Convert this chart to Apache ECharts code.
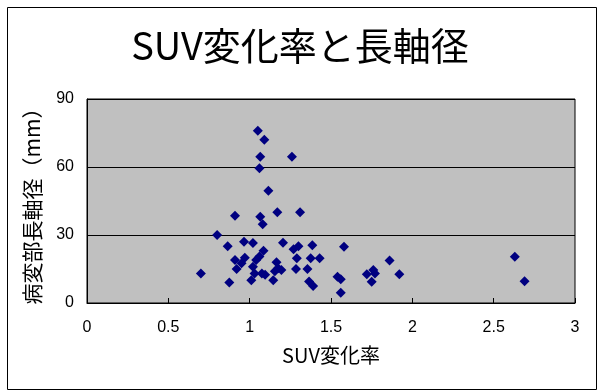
<!DOCTYPE html>
<html>
<head>
<meta charset="utf-8">
<script src="https://cdn.jsdelivr.net/npm/echarts@6/dist/echarts.min.js"></script>
<style>
html,body{margin:0;padding:0;background:#fff;}
#c{width:600px;height:392px;}
</style>
</head>
<body>
<div id="c"></div>
<script>
const titleText = 'SUV変化率と長軸径';
const xAxisName = 'SUV変化率';
const yAxisName = '病変部長軸径（mm）';
const xTicks = [0, 0.5, 1, 1.5, 2, 2.5, 3];
const yTicks = [0, 30, 60, 90];
const suvChange = [0.70,0.80,0.865,0.875,0.91,0.91,0.92,0.95,0.965,0.97,1.01,1.02,1.02,1.03,1.04,1.05,1.06,1.06,1.065,1.065,1.075,1.08,1.085,1.09,1.095,1.115,1.145,1.155,1.165,1.17,1.175,1.195,1.205,1.26,1.27,1.285,1.29,1.30,1.31,1.355,1.365,1.375,1.385,1.39,1.43,1.54,1.56,1.56,1.58,1.72,1.75,1.76,1.77,1.86,1.92,2.63,2.69];
const longAxis = [13,30,25,9,38.5,19,15,17.5,27,20,10,26.5,16,13,19,76,20.5,59.5,64.5,38,13,34.7,23,72,12.5,49.5,10,14,18,40,15.3,14.6,26.6,64.5,23.7,15,19.7,25,40,15,9.5,19.7,25.5,7.5,19.7,11.6,10.5,4.5,24.8,12.7,9.4,14.6,13,18.7,12.7,20.4,9.6];

const points = suvChange.map((x, i) => [x, longAxis[i]]);
const chart = echarts.init(document.getElementById('c'), null, {renderer: 'canvas'});
const numFont = 'Liberation Sans';
const jpFont = 'Noto Sans CJK JP';
chart.setOption({
  animation: false,
  backgroundColor: '#fff',
  title: {
    text: titleText, left: 'center', top: 22,
    textStyle: {fontFamily: jpFont, fontSize: 38, fontWeight: 'normal', color: '#000'}
  },
  graphic: [{
    type: 'rect', left: 5, top: 5, shape: {width: 589, height: 382},
    style: {fill: 'none', stroke: '#000', lineWidth: 1}, silent: true, z: -1
  }],
  grid: {
    left: 87, right: 25, top: 99, bottom: 89,
    show: true, backgroundColor: '#c0c0c0', borderColor: '#000', borderWidth: 1
  },
  xAxis: {
    type: 'value', min: xTicks[0], max: xTicks[xTicks.length - 1], interval: 0.5,
    name: xAxisName, nameLocation: 'middle', nameGap: 42,
    nameTextStyle: {fontFamily: jpFont, fontSize: 20, color: '#000'},
    axisLine: {show: true, lineStyle: {color: '#000', width: 1}},
    axisTick: {show: true, inside: true, length: 5, lineStyle: {color: '#000'}},
    axisLabel: {fontFamily: numFont, fontSize: 16, color: '#000', margin: 17,
      formatter: v => String(v)},
    splitLine: {show: false}
  },
  yAxis: {
    type: 'value', min: yTicks[0], max: yTicks[yTicks.length - 1], interval: 30,
    name: yAxisName, nameLocation: 'middle', nameGap: 44, nameRotate: 90,
    nameTextStyle: {fontFamily: jpFont, fontSize: 21, color: '#000'},
    axisLine: {show: true, lineStyle: {color: '#000', width: 1}},
    axisTick: {show: true, inside: true, length: 5, lineStyle: {color: '#000'}},
    axisLabel: {fontFamily: numFont, fontSize: 16, color: '#000', margin: 13},
    splitLine: {show: true, lineStyle: {color: '#000', width: 1}}
  },
  series: [{
    type: 'scatter', data: points, symbol: 'diamond', symbolSize: 10,
    itemStyle: {color: '#000080', opacity: 1}
  }]
});
</script>
</body>
</html>
